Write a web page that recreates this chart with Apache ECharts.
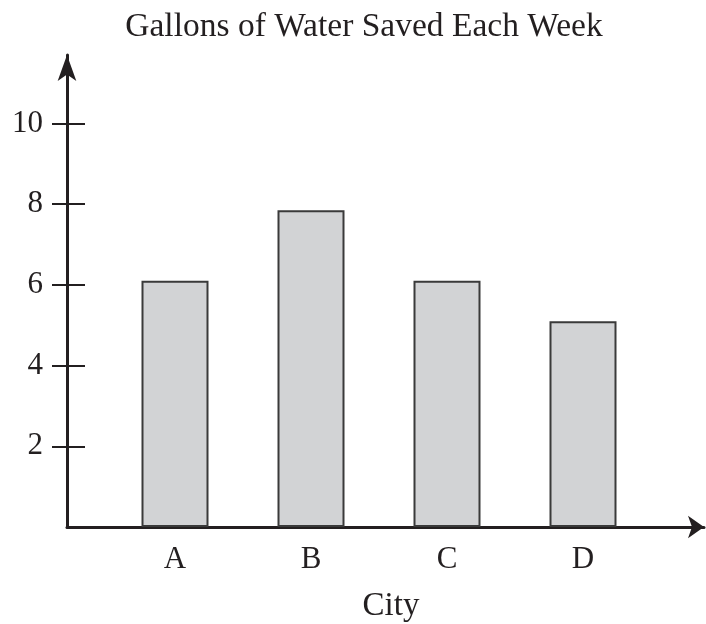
<!DOCTYPE html>
<html>
<head>
<meta charset="utf-8">
<script src="https://cdn.jsdelivr.net/npm/echarts@6/dist/echarts.min.js"></script>
<style>
  html, body { margin: 0; padding: 0; background: #fff; }
  #chart { width: 706px; height: 624px; }
</style>
</head>
<body>
<div id="chart"></div>
<script>
const cities = ['A', 'B', 'C', 'D']
const gallons = [6.1, 7.85, 6.1, 5.1]
const yTicks = [2, 4, 6, 8, 10]

const ink = '#231f20'
const serif = '"Liberation Serif", "DejaVu Serif", serif'

const chart = echarts.init(document.getElementById('chart'))

chart.setOption({
  animation: false,
  title: [
    {
      text: 'Gallons of Water Saved Each Week',
      left: 359,
      top: 5,
      textAlign: 'center',
      textStyle: { fontFamily: serif, fontSize: 33.5, fontWeight: 'normal', color: ink }
    },
    {
      text: 'City',
      left: 386,
      top: 585,
      textAlign: 'center',
      textStyle: { fontFamily: serif, fontSize: 33, fontWeight: 'normal', color: ink }
    }
  ],
  grid: [
    // frame with the arrowed axes
    { left: 67, right: 2, top: 55, bottom: 97 },
    // bars
    { left: 107, right: 55, top: 123.5, bottom: 97 }
  ],
  xAxis: [
    {
      gridIndex: 0,
      type: 'value',
      min: 0,
      max: 1,
      axisLine: {
        show: true,
        symbol: ['none', 'arrow'],
        symbolSize: [17, 16],
        lineStyle: { color: ink, width: 3 }
      },
      axisTick: { show: false },
      axisLabel: { show: false },
      splitLine: { show: false }
    },
    {
      gridIndex: 1,
      type: 'category',
      data: cities,
      axisLine: { show: false },
      axisTick: { show: false },
      axisLabel: {
        margin: 17,
        fontFamily: serif,
        fontSize: 31,
        color: ink
      }
    }
  ],
  yAxis: [
    {
      gridIndex: 0,
      type: 'value',
      min: 0,
      max: 1,
      axisLine: {
        show: true,
        symbol: ['none', 'arrow'],
        symbolSize: [14, 26],
        lineStyle: { color: ink, width: 3 }
      },
      axisTick: { show: false },
      axisLabel: { show: false },
      splitLine: { show: false }
    },
    {
      gridIndex: 1,
      type: 'value',
      position: 'left',
      offset: 40,
      min: 0,
      max: 10,
      interval: 2,
      axisLine: { show: false },
      axisTick: {
        show: true,
        length: 15,
        customValues: yTicks,
        lineStyle: { color: ink, width: 2 }
      },
      axisLabel: {
        margin: 24,
        customValues: yTicks,
        fontFamily: serif,
        fontSize: 31,
        color: ink
      },
      splitLine: { show: false }
    },
    {
      gridIndex: 1,
      type: 'value',
      position: 'left',
      offset: 40,
      min: 0,
      max: 10,
      interval: 2,
      axisLine: { show: false },
      axisTick: {
        show: true,
        inside: true,
        length: 18,
        customValues: yTicks,
        lineStyle: { color: ink, width: 2 }
      },
      axisLabel: { show: false },
      splitLine: { show: false }
    }
  ],
  series: [
    {
      type: 'bar',
      xAxisIndex: 1,
      yAxisIndex: 1,
      data: gallons,
      barWidth: 67,
      itemStyle: {
        color: '#d2d3d5',
        borderColor: '#3a3a3a',
        borderWidth: 2
      }
    }
  ]
})
</script>
</body>
</html>
